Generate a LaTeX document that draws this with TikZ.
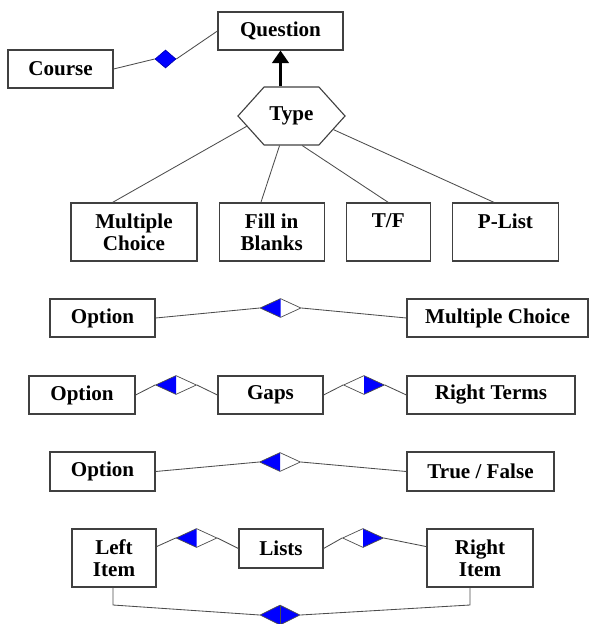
\documentclass[tikz,border=0pt]{standalone}
\usepackage{fontspec}
\setmainfont{Liberation Serif}
\usetikzlibrary{shapes.geometric, shapes.symbols, arrows.meta, positioning, calc}

\begin{document}
\begin{tikzpicture}[
      x=0.025cm, y=-0.025cm,
      node distance=0.525cm,
      every node/.style={font=\fontsize{15pt}{15.6pt}\selectfont\bfseries},
      box/.style={rectangle, draw=black!75, line width=0.8pt, inner sep=0pt, align=center, fill=white},
      hexa/.style={signal, signal to=east and west, signal pointer angle=96, draw=black!75, line width=0.8pt, inner sep=0pt, minimum width=2.675cm, minimum height=1.45cm},
      agg/.style={diamond, draw=black!70, line width=0.5pt, inner sep=0pt, minimum width=1.025cm, minimum height=0.475cm},
      aggL/.style={agg, path picture={\fill[blue] (path picture bounding box.west) -- (path picture bounding box.north) -- (path picture bounding box.south) -- cycle;}},
      aggR/.style={agg, path picture={\fill[blue] (path picture bounding box.east) -- (path picture bounding box.north) -- (path picture bounding box.south) -- cycle;}},
      aggF/.style={agg, fill=blue},
      link/.style={draw=black!70, line width=0.6pt},
      isa/.style={-{Triangle[width=12pt, length=9pt]}, line width=1.6pt}
    ]
    \useasboundingbox (0,0) rectangle (590,624);

    % top: course, question, type
    \node[box, minimum width=3.125cm, minimum height=0.95cm] (question) at (280.5,31) {Question};
    \node[box, minimum width=2.625cm, minimum height=0.95cm] (course) at (60.5,69) {Course};
    \node[aggF, draw=blue!70!black, minimum width=0.525cm, minimum height=0.45cm] (dcq) at (165.5,59) {};
    \node[hexa] (type) at (291.5,116) {Type};

    \draw[link] (course.east) -- (dcq.west);
    \draw[link] (dcq.east) -- (question.west);
    \draw[isa] (question.south |- type.north) -- (question.south);

    % question types
    \node[box, minimum width=3.15cm, minimum height=1.45cm] (mcq) at (134,232) {Multiple\\Choice};
    \node[box, minimum width=2.625cm, minimum height=1.45cm, right=of mcq] (fib) {Fill in\\Blanks};
    \node[box, minimum width=2.1cm, minimum height=1.45cm, right=of fib] (tf) {T/F\\\phantom{T}};
    \node[box, minimum width=2.65cm, minimum height=1.45cm, right=of tf] (plist) {P-List\\\phantom{T}};

    \draw[link] (type.193) -- (mcq.126);
    \draw[link] (type.248) -- (fib.110);
    \draw[link] (type.290) -- (tf.north);
    \draw[link] (type.342) -- (plist.111);

    % multiple choice
    \node[box, minimum width=2.625cm, minimum height=0.95cm] (opt1) at (102.5,318) {Option};
    \node[aggL] (d1) at (280.5,308) {};
    \node[box, minimum width=4.525cm, minimum height=0.95cm] (mc) at (497.5,318) {Multiple Choice};
    \draw[link] (opt1.east) -- (d1.west);
    \draw[link] (d1.east) -- (mc.west);

    % fill in blanks
    \node[box, minimum width=2.65cm, minimum height=0.95cm] (opt2) at (82,395) {Option};
    \node[aggL] (d2a) at (176,385) {};
    \node[box, minimum width=2.625cm, minimum height=0.95cm] (gaps) at (270.5,395) {Gaps};
    \node[aggR] (d2b) at (364,385) {};
    \node[box, minimum width=4.2cm, minimum height=0.95cm] (rterms) at (491,395) {Right Terms};
    \draw[link] (opt2.east) -- (d2a.west);
    \draw[link] (d2a.east) -- (gaps.west);
    \draw[link] (gaps.east) -- (d2b.west);
    \draw[link] (d2b.east) -- (rterms.west);

    % true / false
    \node[box, minimum width=2.625cm, minimum height=0.975cm] (opt3) at (102.5,471.5) {Option};
    \node[aggL] (d3) at (280,462) {};
    \node[box, minimum width=3.675cm, minimum height=0.975cm] (tfl) at (480.5,471.5) {True / False};
    \draw[link] (opt3.east) -- (d3.west);
    \draw[link] (d3.east) -- (tfl.west);

    % p-list
    \node[box, minimum width=2.1cm, minimum height=1.45cm] (litem) at (114,558) {Left\\Item};
    \node[aggL] (d4a) at (196.5,538) {};
    \node[box, minimum width=2.1cm, minimum height=0.975cm] (lists) at (281,548.5) {Lists};
    \node[aggR] (d4b) at (363,538) {};
    \node[box, minimum width=2.65cm, minimum height=1.45cm] (ritem) at (480,558) {Right\\Item};
    \node[aggF, minimum width=1cm, minimum height=0.5cm] (d5) at (280,615) {};
    \coordinate (lb) at (113,605);
    \coordinate (rb) at (470,605);

    \draw[link] (litem.15) -- (d4a.west);
    \draw[link] (d4a.east) -- (lists.west);
    \draw[link] (lists.east) -- (d4b.west);
    \draw[link] (d4b.east) -- (ritem.168);
    \draw[link] (litem.south -| lb) -- (lb) -- (d5.west);
    \draw[link] (d5.east) -- (rb) -- (ritem.south -| rb);
    \draw[link] (d5.north) -- (d5.south);
\end{tikzpicture}
\end{document}
